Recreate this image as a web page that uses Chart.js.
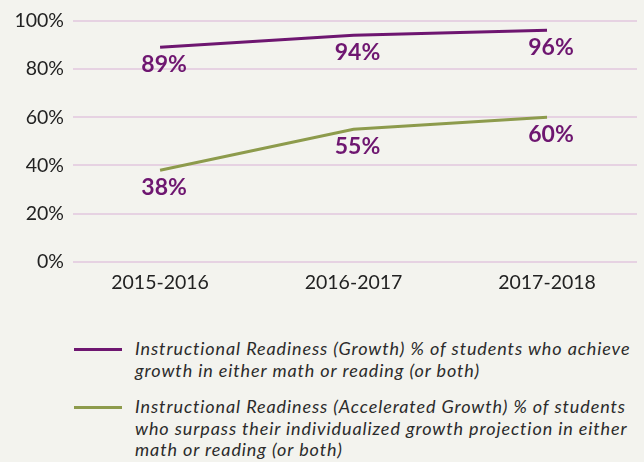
<!DOCTYPE html>
<html>
<head>
<meta charset="utf-8">
<script src="https://cdn.jsdelivr.net/npm/chart.js@4"></script>
<style>
  html, body { margin: 0; padding: 0; background: #f3f3ee; }
  #wrap { position: relative; width: 644px; height: 462px; overflow: hidden; }
  #chartBox { position: absolute; left: 0; top: 0; width: 644px; height: 300px; }
  .legend-item { position: absolute; left: 0; width: 644px; }
  .swatch { position: absolute; left: 74px; width: 48px; height: 3px; }
  .legend-text { position: absolute; left: 135px; width: 509px; font-family: Lato, sans-serif;
    font-style: italic; font-size: 18px; letter-spacing: 0.9px; line-height: 21.5px; color: #2b2b2b; white-space: nowrap; }
</style>
</head>
<body>
<div id="wrap">
  <div id="chartBox"><canvas id="myChart" width="644" height="300"></canvas></div>
  <div id="legend"></div>
</div>
<script>
const categories = ['2015-2016', '2016-2017', '2017-2018'];
const growthValues = [89, 94, 96];
const acceleratedValues = [38, 55, 60];
const yTicks = [0, 20, 40, 60, 80, 100];

const seriesNames = [
    ['Instructional Readiness (Growth) % of students who achieve', 'growth in either math or reading (or both)'],
    ['Instructional Readiness (Accelerated Growth) % of students', 'who surpass their individualized growth projection in either', 'math or reading (or both)']
];

const purple = '#6e1670';
const green = '#8d9b4c';

document.addEventListener('DOMContentLoaded', function() {
    const ctx = document.getElementById('myChart').getContext('2d');

    const toPoints = (values) => values.map((v, i) => ({ x: i, y: v }));

    // value labels under each point
    const valueLabels = {
        id: 'valueLabels',
        afterDatasetsDraw(chart) {
            const c = chart.ctx;
            c.save();
            c.font = 'bold 23px Lato, sans-serif';
            c.fillStyle = purple;
            c.textAlign = 'center';
            c.textBaseline = 'middle';
            chart.data.datasets.forEach((ds, di) => {
                const meta = chart.getDatasetMeta(di);
                meta.data.forEach((pt, i) => {
                    c.fillText(ds.data[i].y + '%', pt.x + 4, pt.y + 17);
                });
            });
            c.restore();
        }
    };

    new Chart(ctx, {
        type: 'line',
        data: {
            datasets: [{
                label: seriesNames[0].join(' '),
                data: toPoints(growthValues),
                borderColor: purple,
                borderWidth: 3,
                pointRadius: 0,
                tension: 0
            }, {
                label: seriesNames[1].join(' '),
                data: toPoints(acceleratedValues),
                borderColor: green,
                borderWidth: 3,
                pointRadius: 0,
                tension: 0
            }]
        },
        options: {
            responsive: false,
            animation: false,
            layout: { padding: { top: 18, right: 7, left: 0, bottom: 0 } },
            plugins: {
                legend: { display: false },
                tooltip: { enabled: false }
            },
            scales: {
                x: {
                    type: 'linear',
                    min: -0.45,
                    max: 2.465,
                    afterBuildTicks: (axis) => {
                        axis.ticks = categories.map((c, i) => ({ value: i }));
                    },
                    afterFit: (axis) => { axis.height = 38; },
                    grid: { display: false, drawTicks: false },
                    border: { display: false },
                    ticks: {
                        padding: 9,
                        color: '#222',
                        font: { family: 'Lato, sans-serif', size: 19.5 },
                        callback: (v) => categories[v]
                    }
                },
                y: {
                    min: 0,
                    max: 100,
                    afterBuildTicks: (axis) => {
                        axis.ticks = yTicks.map(v => ({ value: v }));
                    },
                    afterFit: (axis) => { axis.width = 73; },
                    grid: { color: '#e6d2e2', lineWidth: 2, drawTicks: false },
                    border: { display: false },
                    ticks: {
                        padding: 9,
                        color: '#222',
                        font: { family: 'Lato, sans-serif', size: 19.5 },
                        callback: (v) => v + '%'
                    }
                }
            }
        },
        plugins: [valueLabels]
    });

    // legend below the chart
    const legend = document.getElementById('legend');
    const legendTops = [338, 396];
    const colors = [purple, green];
    seriesNames.forEach((lines, i) => {
        const item = document.createElement('div');
        item.className = 'legend-item';
        item.style.top = legendTops[i] + 'px';
        const sw = document.createElement('div');
        sw.className = 'swatch';
        sw.style.background = colors[i];
        sw.style.top = '10px';
        const tx = document.createElement('div');
        tx.className = 'legend-text';
        tx.style.top = '0px';
        tx.innerHTML = lines.join('<br>');
        item.appendChild(sw);
        item.appendChild(tx);
        legend.appendChild(item);
    });
});
</script>
</body>
</html>
